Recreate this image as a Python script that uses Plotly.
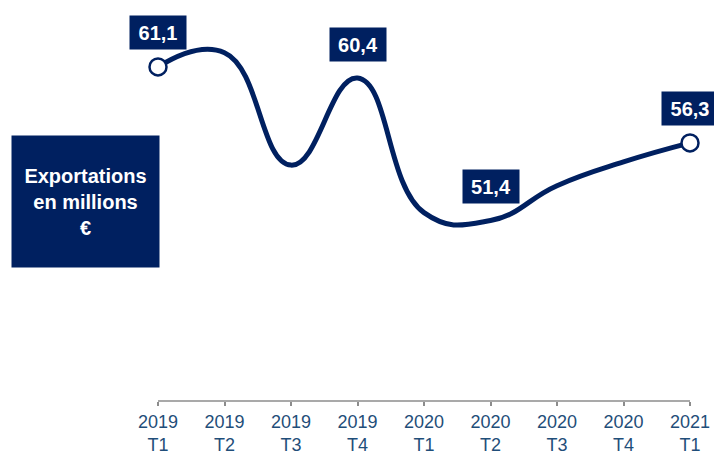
import plotly.graph_objects as go

categories = ["2019<br>T1", "2019<br>T2", "2019<br>T3", "2019<br>T4", "2020<br>T1",
              "2020<br>T2", "2020<br>T3", "2020<br>T4", "2021<br>T1"]
values = [61.1, 62.0, 54.9, 60.4, 51.9, 51.4, 53.6, 55.1, 56.3]
labeled_idx = [0, 3, 5, 8]
label_texts = ["61,1", "60,4", "51,4", "56,3"]
marker_idx = [0, 8]
box_text = "Exportations<br>en millions<br>€"

NAVY = "#002060"
TICKCOL = "#1F4E79"
AXISCOL = "#8C8C8C"
FONT = "Arial, Liberation Sans, sans-serif"

xs = list(range(len(categories)))

fig = go.Figure()
fig.add_trace(go.Scatter(
    x=xs, y=values, mode="lines",
    line=dict(color=NAVY, width=5, shape="spline", smoothing=1.3),
    hoverinfo="skip", showlegend=False,
))
fig.add_trace(go.Scatter(
    x=[xs[i] for i in marker_idx], y=[values[i] for i in marker_idx], mode="markers",
    marker=dict(size=17, color="white", line=dict(color=NAVY, width=2.5)),
    hoverinfo="skip", showlegend=False,
))

for i, t in zip(labeled_idx, label_texts):
    fig.add_annotation(
        x=xs[i], y=values[i], text=f"<b>{t}</b>", showarrow=False,
        xanchor="center", yanchor="middle", yshift=34,
        bgcolor=NAVY, width=56, height=33, borderpad=0,
        font=dict(family=FONT, size=20, color="white"),
    )

fig.add_annotation(
    xref="paper", yref="paper", x=85.5 / 714, y=(401 - 201.5) / 401,
    text=f"<b>{box_text}</b>", showarrow=False,
    xanchor="center", yanchor="middle",
    bgcolor=NAVY, width=147, height=131, borderpad=0,
    font=dict(family=FONT, size=20, color="white"),
)

fig.add_shape(type="line", xref="x", yref="paper", x0=0, x1=8, y0=0, y1=0,
              line=dict(color=AXISCOL, width=1.5))

fig.update_layout(
    width=714, height=456,
    margin=dict(l=0, r=0, t=0, b=55),
    paper_bgcolor="white", plot_bgcolor="white",
    xaxis=dict(
        range=[-158 / 66.5, (714 - 158) / 66.5],
        tickmode="array", tickvals=xs, ticktext=categories,
        ticks="outside", ticklen=4, tickwidth=1.5, tickcolor=AXISCOL,
        showgrid=False, zeroline=False, showline=False, automargin=False,
        tickfont=dict(family=FONT, size=18, color=TICKCOL),
        ticklabelstandoff=0,
    ),
    yaxis=dict(range=[40.0, 65.33], visible=False, showgrid=False, zeroline=False,
               automargin=False),
)

fig.write_html("out.html")
